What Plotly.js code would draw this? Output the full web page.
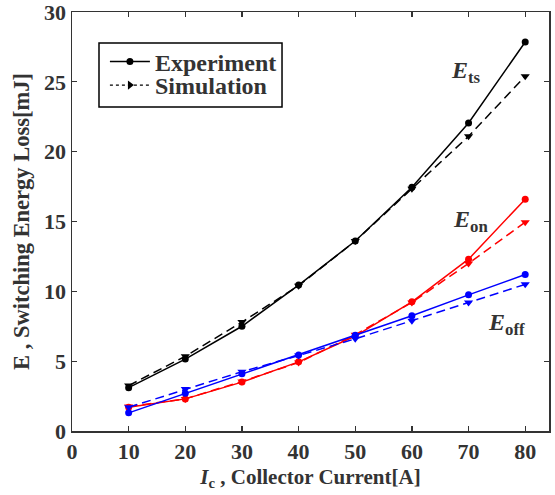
<!DOCTYPE html>
<html><head><meta charset="utf-8">
<script src="https://cdn.plot.ly/plotly-3.0.1.min.js"></script>
<style>body{margin:0;padding:0;background:#fff}#chart{width:555px;height:495px}</style>
</head><body><div id="chart"></div>
<script>
const current = [10, 20, 30, 40, 50, 60, 70, 80];
const etsExp = [3.1, 5.15, 7.5, 10.45, 13.6, 17.45, 22.05, 27.85];
const etsSim = [3.25, 5.35, 7.8, 10.4, 13.6, 17.35, 21.1, 25.4];
const eonExp = [1.7, 2.3, 3.5, 4.95, 6.8, 9.25, 12.3, 16.6];
const eonSim = [1.75, 2.3, 3.55, 4.9, 6.9, 9.2, 12.0, 14.95];
const eoffExp = [1.3, 2.7, 4.1, 5.45, 6.85, 8.25, 9.75, 11.2];
const eoffSim = [1.7, 3.0, 4.25, 5.4, 6.6, 7.9, 9.2, 10.5];
const xTicks = [0, 10, 20, 30, 40, 50, 60, 70, 80];
const yTicks = [0, 5, 10, 15, 20, 25, 30];
const legendNames = ['Experiment', 'Simulation'];

const FONT = 'Liberation Serif, Times New Roman, serif';
function expTrace(y, c){return {x: current, y: y, mode:'lines+markers', showlegend:false,
  line:{color:c, width:1.5}, marker:{symbol:'circle', size:7, color:c}};}
function simTrace(y, c){return {x: current, y: y, mode:'lines+markers', showlegend:false,
  line:{color:c, width:1.5, dash:'9px,5px'}, marker:{symbol:'triangle-down', size:8, color:c}};}
const traces = [
  expTrace(eonExp,'#ff0000'), simTrace(eonSim,'#ff0000'),
  expTrace(eoffExp,'#0000ff'), simTrace(eoffSim,'#0000ff'),
  expTrace(etsExp,'#000000'), simTrace(etsSim,'#000000'),
  {x:[null], y:[null], name:legendNames[0], legend:'legend', mode:'lines+markers', line:{color:'#000', width:1.5}, marker:{symbol:'circle', size:7, color:'#000'}},
  {x:[null], y:[null], name:legendNames[1], legend:'legend2', mode:'lines+markers', line:{color:'#000', width:1.2, dash:'dot'}, marker:{symbol:'triangle-right', size:8, color:'#000'}}
];
const axisCommon = {showline:true, mirror:'ticks', linecolor:'#333', linewidth:1.5,
  ticks:'inside', ticklen:5, tickwidth:1.2, tickcolor:'#333', showgrid:false, zeroline:false,
  ticklabeloverflow:'allow',
  tickfont:{family:FONT, size:22, color:'#333', weight:'bold'}};
const legendFont = {family:FONT, size:24, color:'#333', weight:'bold'};
const layout = {
  width:555, height:495, margin:{l:72, r:6, t:12, b:64},
  paper_bgcolor:'#fff', plot_bgcolor:'#fff',
  font:{family:FONT, color:'#333'},
  xaxis: Object.assign({}, axisCommon, {range:[0, 84.2], tickvals:xTicks, ticktext:xTicks.map(String),
    title:{text:'<i>I</i><sub>c</sub> , Collector Current[A]', font:{family:FONT, size:21, color:'#333', weight:'bold'}, standoff:6}}),
  yaxis: Object.assign({}, axisCommon, {range:[0, 30], tickvals:yTicks, ticktext:yTicks.map(String),
    title:{text:'E , Switching Energy Loss[mJ]', font:{family:FONT, size:22.5, color:'#333', weight:'bold'}, standoff:8}}),
  legend:{x:0.069, y:0.8807, xanchor:'left', yanchor:'middle', bgcolor:'rgba(0,0,0,0)', borderwidth:0,
    font:legendFont, itemwidth:40},
  legend2:{x:0.069, y:0.8246, xanchor:'left', yanchor:'middle', bgcolor:'rgba(0,0,0,0)', borderwidth:0,
    font:legendFont, itemwidth:40},
  shapes:[{type:'rect', xref:'paper', yref:'paper', x0:0.0566, x1:0.4403, y0:0.7733, y1:0.926,
    line:{color:'#000', width:1.5}, fillcolor:'#fff', layer:'below'}],
  annotations:[]
};
function px2x(px){return (px-72)/(549-72)*84.2;}
function px2y(py){return (431-py)/(431-12)*30;}
const labelTexts = ['<b><i>E</i></b><b><sub>ts</sub></b>', '<b><i>E</i></b><b><sub>on</sub></b>', '<b><i>E</i></b><b><sub>off</sub></b>'];
const labelPx = [[466, 72], [470, 221], [506, 324]];
layout.annotations = labelTexts.map((t, i) => ({text:t, showarrow:false,
  font:{family:FONT, size:24, color:'#333'},
  x:px2x(labelPx[i][0]), y:px2y(labelPx[i][1]), xref:'x', yref:'y'}));
Plotly.newPlot('chart', traces, layout, {displayModeBar:false, staticPlot:true});
</script></body></html>
